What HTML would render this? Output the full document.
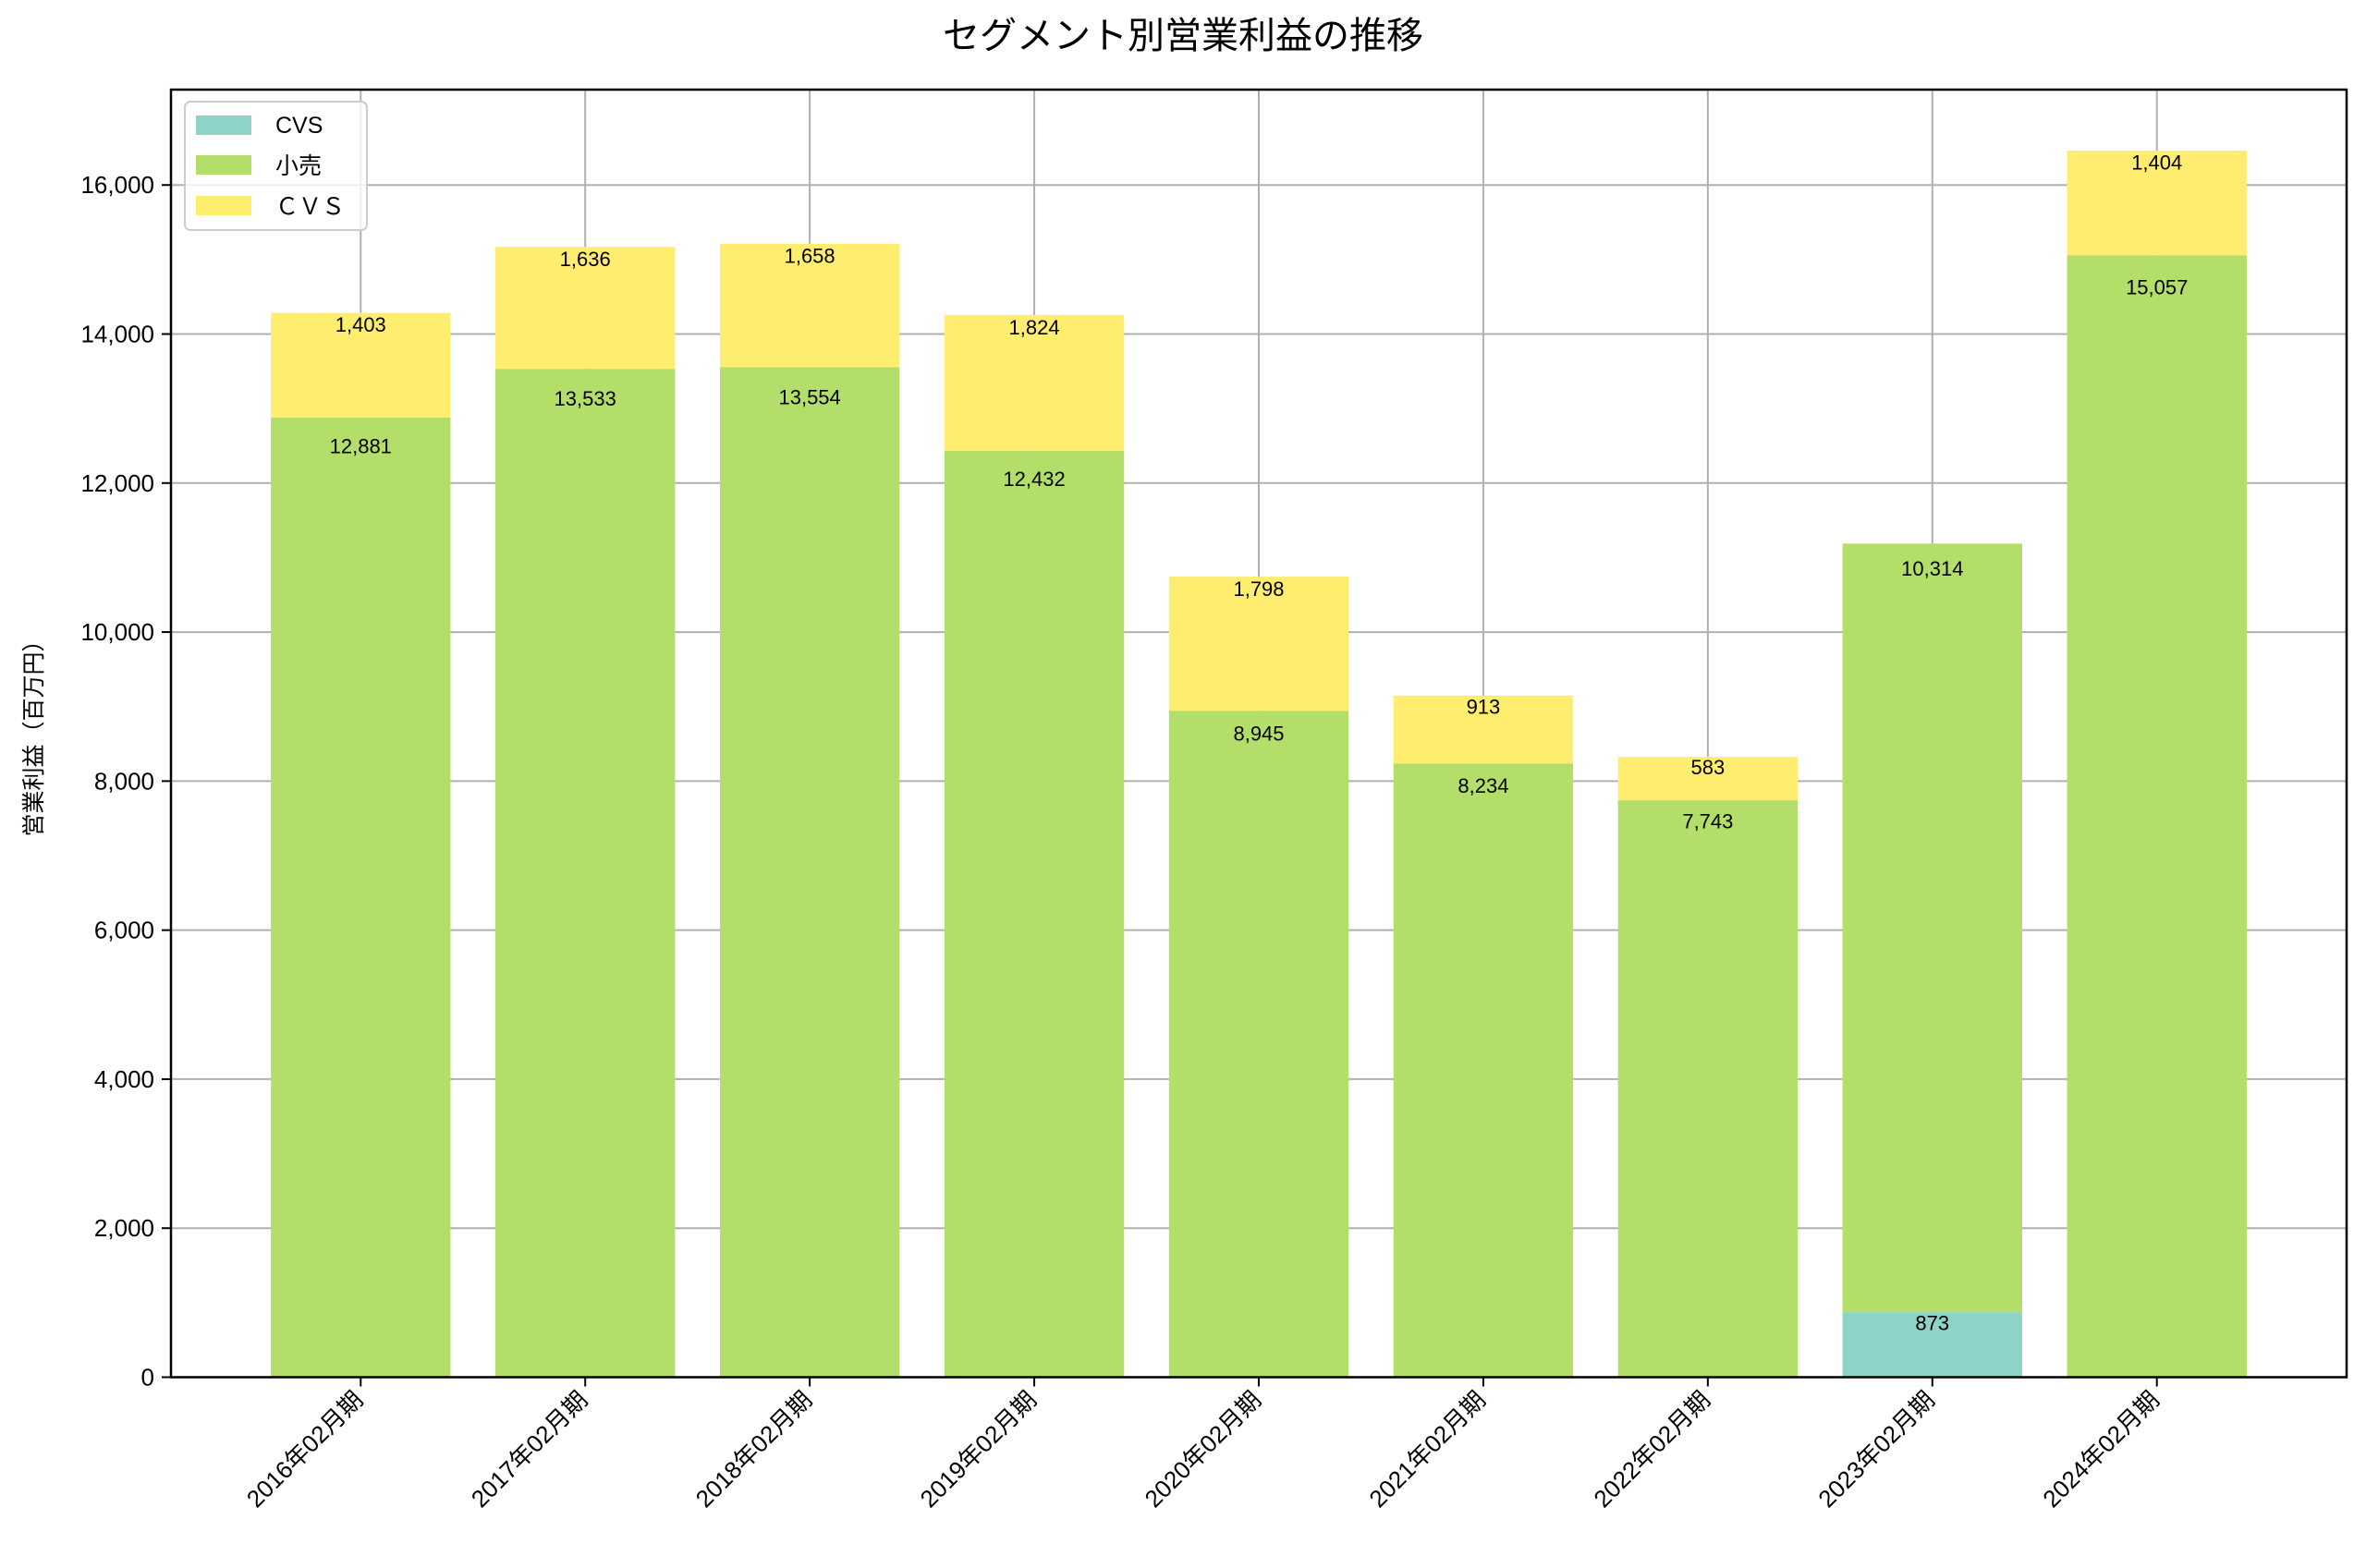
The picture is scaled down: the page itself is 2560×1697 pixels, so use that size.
<!DOCTYPE html>
<html><head><meta charset="utf-8"><style>
html,body{margin:0;padding:0;background:#fff;}
svg{display:block;font-family:"Liberation Sans","Noto Sans CJK JP",sans-serif;}
</style></head><body>
<svg id="chart" width="2560" height="1697" viewBox="0 0 2560 1697" xmlns="http://www.w3.org/2000/svg">
<rect x="0" y="0" width="2560" height="1697" fill="#fff"/>
<text x="1280" y="52" text-anchor="middle" font-size="40" fill="#000">セグメント別営業利益の推移</text>
<text transform="translate(45,793) rotate(-90)" text-anchor="middle" font-size="25" fill="#000">営業利益（百万円）</text>
<g id="grid"></g>
<g id="bars"></g>
<g id="labels"></g>
<g id="axes"></g>
<g>
<rect x="200" y="110" width="197" height="139" rx="6" fill="#fff" fill-opacity="0.8" stroke="#cccccc" stroke-width="2"/>
<rect x="212" y="125" width="60" height="21" fill="#8dd3c7"/>
<text x="298" y="144" font-size="25">CVS</text>
<rect x="212" y="168" width="60" height="21" fill="#b3de69"/>
<text x="298" y="188" font-size="25">小売</text>
<rect x="212" y="212" width="60" height="21" fill="#ffed6f"/>
<text x="298" y="232" font-size="25">ＣＶＳ</text>
</g>
</svg>
<script>
const categories = ["2016年02月期","2017年02月期","2018年02月期","2019年02月期","2020年02月期","2021年02月期","2022年02月期","2023年02月期","2024年02月期"];
const cvsValues = [0,0,0,0,0,0,0,873,0];
const retailValues = [12881,13533,13554,12432,8945,8234,7743,10314,15057];
const cvsFullValues = [1403,1636,1658,1824,1798,913,583,0,1404];
const yTicks = [0,2000,4000,6000,8000,10000,12000,14000,16000];

const NS = "http://www.w3.org/2000/svg";
const L = 185, R = 2539, T = 97, B = 1490.5;
const yMax = 17280, xMin = -0.845, xMax = 8.845;
function yS(v){ return B - v / yMax * (B - T); }
function xS(i){ return L + (i - xMin) / (xMax - xMin) * (R - L); }
const bw = 0.8 * (R - L) / (xMax - xMin);
function mk(tag, attrs, parent){ const e = document.createElementNS(NS, tag); for (const k in attrs) e.setAttribute(k, attrs[k]); parent.appendChild(e); return e; }
const grid = document.getElementById('grid'), bars = document.getElementById('bars'), labels = document.getElementById('labels'), axes = document.getElementById('axes');

yTicks.forEach(t => {
  const g = mk('line', {x1:L, x2:R, y1:yS(t), y2:yS(t), stroke:'#b0b0b0', 'stroke-width':2}, grid);
  
  
  const tk = mk('line', {x1:L-10, x2:L, y1:yS(t), y2:yS(t), stroke:'#000', 'stroke-width':2}, axes);
  
  
  const tx = mk('text', {x:L-18, y:yS(t)+9, 'text-anchor':'end', 'font-size':26}, axes);
  
  
  tx.textContent = t.toLocaleString('en-US');
});
categories.forEach((c, i) => {
  const x = xS(i);
  const g = mk('line', {x1:x, x2:x, y1:T, y2:B, stroke:'#b0b0b0', 'stroke-width':2}, grid);
  
  
  const tk = mk('line', {x1:x, x2:x, y1:B, y2:B+10, stroke:'#000', 'stroke-width':2}, axes);
  
  
  const tx = mk('text', {transform:`translate(${x+4},${B+26}) rotate(-45)`, 'text-anchor':'end', 'font-size':26}, axes);
  
  
  tx.textContent = c;
});

const series = [[cvsValues,'#8dd3c7','cvs'],[retailValues,'#b3de69','retail'],[cvsFullValues,'#ffed6f','cvs-fullwidth']];
const cum = categories.map(() => 0);
series.forEach(([vals, color, name]) => {
  vals.forEach((v, i) => {
    const bottom = cum[i], top = bottom + v;
    if (v > 0) {
      const r = mk('rect', {x:xS(i)-bw/2, y:yS(top), width:bw, height:yS(bottom)-yS(top), fill:color}, bars);
      
      
      const t = mk('text', {x:xS(i), y:yS(top - 0.02*v)+18, 'text-anchor':'middle', 'font-size':22}, labels);
      
      
      t.textContent = v.toLocaleString('en-US');
    }
    cum[i] = top;
  });
});
const frame = mk('rect', {x:L, y:T, width:R-L, height:B-T, fill:'none', stroke:'#000', 'stroke-width':2.5}, axes);


</script>
</body></html>
